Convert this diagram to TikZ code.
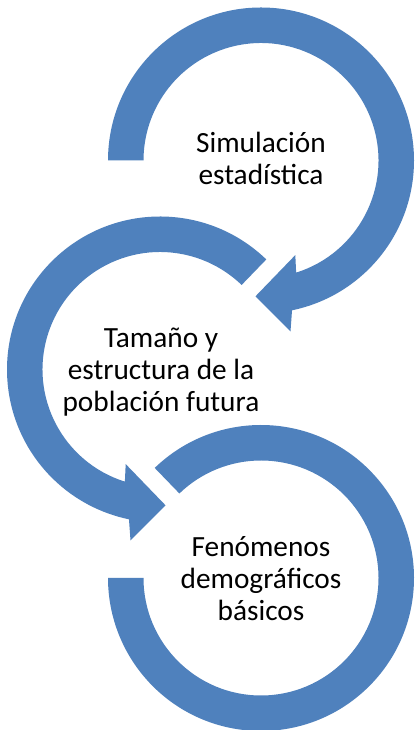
\documentclass[tikz,border=0pt]{standalone}
\usepackage{fontspec}
\setmainfont{Carlito}
\usetikzlibrary{calc}
\definecolor{arrowblue}{RGB}{79,129,189}
\begin{document}
\begin{tikzpicture}[x=1pt,y=1pt,
  ringarrow/.style={fill=arrowblue,draw=none},
  lbl/.style={font=\fontsize{29.3}{32}\selectfont, align=center, anchor=base, inner sep=0pt, text=black}]
\fill[white] (0,0) rectangle (416,730);
\useasboundingbox (0,0) rectangle (416,730);
\coordinate (c1) at (261,569.5);
\coordinate (c2) at (160,360.5);
\coordinate (c3) at (261,152);
% top arrow
\path[ringarrow] ($(c1)+(180:153)$) arc[start angle=180,end angle=-78.3,radius=153]
  -- ($(c1)+(29.5,-170.8)$) -- ($(c1)+(-5.5,-135.8)$) -- ($(c1)+(34.3,-94.6)$)
  -- ($(c1)+(-72.6:117.5)$) arc[start angle=-72.6,end angle=180,radius=117.5] -- cycle;
% middle arrow
\path[ringarrow] ($(c2)+(46:153)$) arc[start angle=46,end angle=258.3,radius=153]
  -- ($(c2)+(-29.5,-170.8)$) -- ($(c2)+(5.5,-135.8)$) -- ($(c2)+(-34.3,-94.6)$)
  -- ($(c2)+(252.6:117.5)$) arc[start angle=252.6,end angle=46,radius=117.5] -- cycle;
% bottom arc
\path[ringarrow] ($(c3)+(134:153)$) arc[start angle=134,end angle=-180,radius=153]
  -- ($(c3)+(-180:117.5)$) arc[start angle=-180,end angle=134,radius=117.5] -- cycle;
\node[lbl] (t1) at (261,545) {Simulación\\estadística};
\node[lbl] (t2) at (161,318) {Tamaño y\\estructura de la\\población futura};
\node[lbl] (t3) at (261,109) {Fenómenos\\demográficos\\básicos};
\end{tikzpicture}
\end{document}
